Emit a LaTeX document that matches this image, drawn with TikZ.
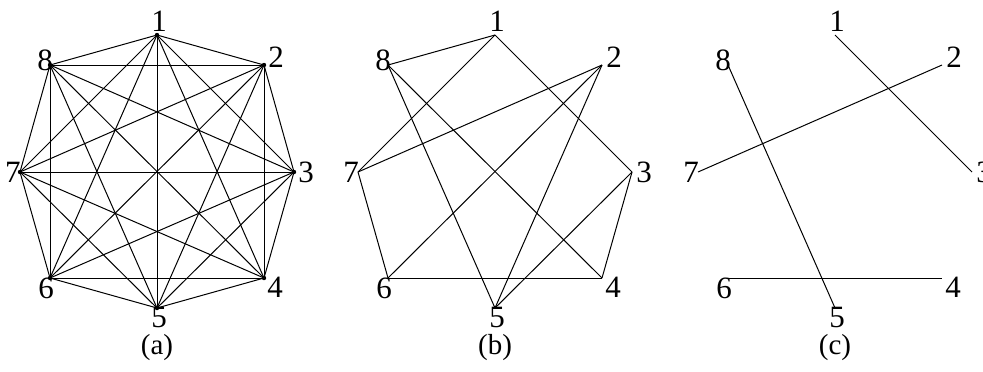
\documentclass[tikz,border=0pt]{standalone}
\usepackage{fontspec}
\setmainfont{Liberation Serif}
\usepackage{tikz}

\begin{document}
\begin{tikzpicture}[x=0.5pt, y=-0.5pt,
    vlabel/.style={inner sep=0pt, font=\fontsize{15.5}{18}\selectfont},
    sublabel/.style={inner sep=0pt, font=\fontsize{14.5}{17}\selectfont},
    edge/.style={line width=0.5pt},
    vdot/.style={circle, fill, inner sep=0pt, minimum size=2.2pt}]
  \useasboundingbox (0,0) rectangle (983,371);
  % vertices and their numbers, same octagon for all three graphs
  \foreach \g/\cx in {a/157, b/495, c/835} {
    \foreach \i/\dx/\dy/\lx/\ly in {1/0/-137/2/-14, 2/107/-107/12/-8,
        3/137/0/12/0, 4/107/106/11/9, 5/0/136/2/9, 6/-107/106/-4/10,
        7/-137/0/-7/0, 8/-107/-107/-5/-5} {
      \coordinate (\g\i) at ({\cx+(\dx)},{172+(\dy)});
      \node[vlabel] (\g l\i) at ({\cx+(\dx)+(\lx)},{172+(\dy)+(\ly)}) {\i};
    }
  }
  % (a) complete graph
  \foreach \i in {1,...,7} {
    \pgfmathtruncatemacro\nxt{\i+1}
    \foreach \j in {\nxt,...,8}
      \draw[edge] (a\i) -- (a\j);
  }
  \foreach \i in {1,...,8}
    \node[vdot] (ad\i) at (a\i) {};
  % (b)
  \foreach \i/\j in {8/1, 1/7, 1/3, 8/5, 8/4, 2/7, 2/6, 2/5, 7/6, 6/4, 4/3, 3/5}
    \draw[edge] (b\i) -- (b\j);
  % (c)
  \foreach \i/\j in {1/3, 2/7, 8/5, 6/4}
    \draw[edge] (c\i) -- (c\j);
  \node[sublabel] (capa) at (157,348) {(a)};
  \node[sublabel] (capb) at (495,348) {(b)};
  \node[sublabel] (capc) at (835,348) {(c)};
\end{tikzpicture}
\end{document}
